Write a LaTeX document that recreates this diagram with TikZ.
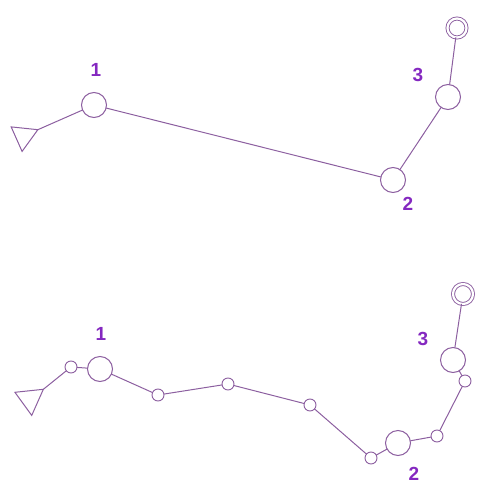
\documentclass[tikz,border=0pt]{standalone}
\usepackage{fontspec}
\setmainfont{Liberation Sans}
\usepackage{xcolor}
\definecolor{routeLine} {HTML}{8C5FA0}
\definecolor{stopNum}   {HTML}{8428C0}
\usetikzlibrary{shapes.geometric}

\begin{document}
\begin{tikzpicture}[
    x=1pt, y=-1pt,
    every node/.style={inner sep=0pt, outer sep=0pt},
    bigc/.style={draw=routeLine, line width=1pt, circle, fill=white, minimum size=25pt},
    smallc/.style={draw=routeLine, line width=0.9pt, circle, fill=white, minimum size=12pt},
    endc/.style={draw=routeLine, line width=0.9pt, circle, double, double distance=2.2pt,
                 minimum size=19pt},
    flag/.style={draw=routeLine, line width=1pt, regular polygon, regular polygon sides=3,
                 minimum size=31pt},
    lab/.style={font=\fontsize{19}{19}\selectfont\bfseries, text=stopNum},
    leg/.style={draw=routeLine, line width=1pt}
]
\useasboundingbox (0,0) rectangle (476,484);
% Upper route: direct legs
\node[flag, shape border rotate=174] (tflag) at (23.7,136) {};
\node[bigc] (tc1) at (94,105) {};
\node[bigc] (tc2) at (393,180) {};
\node[bigc] (tc3) at (448,97) {};
\node[endc] (tend) at (457,28) {};
\node[lab] (tl1) at (96,70) {1};
\node[lab] (tl2) at (408,204) {2};
\node[lab] (tl3) at (418,75) {3};
\draw[leg] (tflag.corner 2) -- (tc1);
\foreach \a/\b in {tc1/tc2, tc2/tc3, tc3/tend}
    \draw[leg] (\a) -- (\b);
% Lower route: legs with intermediate points
\node[flag, shape border rotate=186, minimum size=33pt] (bflag) at (30,399) {};
\node[bigc] (bc1) at (100,369) {};
\node[bigc] (bc2) at (398,443) {};
\node[bigc] (bc3) at (453,360) {};
\node[endc, minimum size=20pt] (bend) at (463,294) {};
\foreach \n/\x/\y in {s1/71/367, s2/158/395, s3/228/384, s4/310/405,
                      s5/371/458, s6/437/436, s7/465/381}
    \node[smallc] (\n) at (\x,\y) {};
\node[lab] (bl1) at (101,334) {1};
\node[lab] (bl2) at (414,474) {2};
\node[lab] (bl3) at (423,339) {3};
\draw[leg] (bflag.corner 2) -- (s1);
\foreach \a/\b in {s1/bc1, bc1/s2, s2/s3, s3/s4, s4/s5, s5/bc2, bc2/s6, s6/s7, s7/bc3, bc3/bend}
    \draw[leg] (\a) -- (\b);
\end{tikzpicture}
\end{document}
